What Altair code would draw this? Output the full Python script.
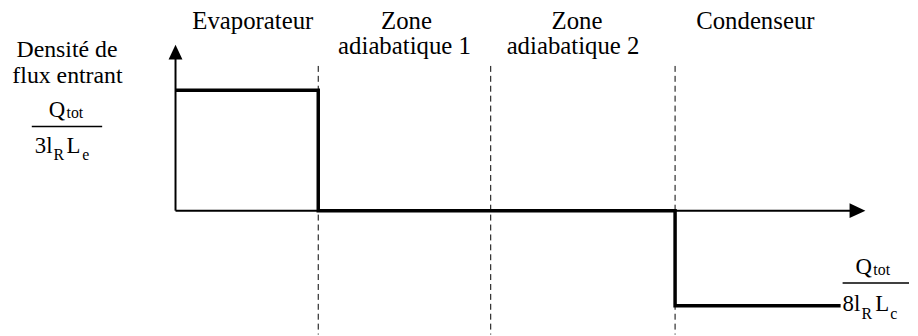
import altair as alt
import pandas as pd

# ---- schematic values (data units: 1 unit ~ 1 px, origin at axes crossing) ----
step_x = [0, 144, 144, 504, 504, 671]
step_y = [121.5, 121.5, 0, 0, -96, -96]

zone_bounds = [144, 318, 504]
dash_top, dash_bottom = 146, -125

x_axis_end = 688
y_axis_end = 160

zone_labels = ["Evaporateur", "Zone", "adiabatique 1", "Zone", "adiabatique 2", "Condenseur"]
zone_label_x = [78, 233, 231, 405, 401, 585]
zone_label_y = [183, 183, 158, 183, 158, 183]

ylab_lines = ["Densité de", "flux entrant"]
ylab_x = [-109.5, -109]
ylab_y = [155, 129]

# fraction pieces: text, x (left), y (baseline), font size
frac_text = ["Q", "tot", "3l", "R", "L", "e",
             "Q", "tot", "8l", "R", "L", "c"]
frac_x = [-128, -110, -142, -123, -110, -94,
          686, 704, 673, 692, 706, 721]
frac_y = [94, 93, 58, 51, 58, 51,
          -64, -65, -101, -109, -101, -109]
frac_size = [23, 16, 23, 16, 23, 16,
             23, 16, 23, 16, 23, 16]

frac_bar_x = [-145, 673]
frac_bar_x2 = [-74, 740]
frac_bar_y = [85, -73]

FONT = "Liberation Serif"
W, H = 910, 328
xs = alt.Scale(domain=[-169, 741], nice=False, zero=False)
ys = alt.Scale(domain=[-125, 203], nice=False, zero=False)

step_df = pd.DataFrame({"x": step_x, "y": step_y, "o": list(range(len(step_x)))})
dash_df = pd.DataFrame({"x": zone_bounds, "y": [dash_top] * 3, "y2": [dash_bottom] * 3})
axes_df = pd.DataFrame({"x": [0, 0], "y": [0, 0], "x2": [x_axis_end, 0], "y2": [0, y_axis_end]})
zl_df = pd.DataFrame({"t": zone_labels, "x": zone_label_x, "y": zone_label_y})
yl_df = pd.DataFrame({"t": ylab_lines, "x": ylab_x, "y": ylab_y})
fr_df = pd.DataFrame({"t": frac_text, "x": frac_x, "y": frac_y, "s": frac_size})
bar_df = pd.DataFrame({"x": frac_bar_x, "x2": frac_bar_x2, "y": frac_bar_y})
xarrow_df = pd.DataFrame({"x": [x_axis_end], "y": [0]})
yarrow_df = pd.DataFrame({"x": [0], "y": [y_axis_end]})

X = lambda f="x": alt.X(f"{f}:Q", scale=xs, axis=None)
Y = lambda f="y": alt.Y(f"{f}:Q", scale=ys, axis=None)

dashes = alt.Chart(dash_df).mark_rule(color="black", strokeWidth=1, strokeDash=[6, 4]).encode(
    x=X(), y=Y(), y2="y2:Q")
axes = alt.Chart(axes_df).mark_rule(color="black", strokeWidth=2).encode(
    x=X(), y=Y(), x2="x2:Q", y2="y2:Q")
step = alt.Chart(step_df).mark_line(color="black", strokeWidth=3.5, strokeJoin="miter").encode(
    x=X(), y=Y(), order="o:Q")
xarrow = alt.Chart(xarrow_df).mark_point(
    shape="M-1,-0.9375L-1,0.9375L1,0Z", size=256, filled=True, color="black", opacity=1, strokeWidth=0
).encode(x=X(), y=Y())
yarrow = alt.Chart(yarrow_df).mark_point(
    shape="M-0.875,0.9375L0.875,0.9375L0,-0.9375Z", size=256, filled=True, color="black", opacity=1, strokeWidth=0
).encode(x=X(), y=Y())
zl = alt.Chart(zl_df).mark_text(font=FONT, fontSize=25, align="center", baseline="alphabetic", color="black").encode(
    x=X(), y=Y(), text="t:N")
yl = alt.Chart(yl_df).mark_text(font=FONT, fontSize=24, align="center", baseline="alphabetic", color="black").encode(
    x=X(), y=Y(), text="t:N")
fr = alt.Chart(fr_df).mark_text(font=FONT, align="left", baseline="alphabetic", color="black").encode(
    x=X(), y=Y(), text="t:N", size=alt.Size("s:Q", scale=None, legend=None))
bars = alt.Chart(bar_df).mark_rule(color="black", strokeWidth=1.5).encode(
    x=X(), x2="x2:Q", y=Y())

chart = alt.layer(dashes, axes, step, xarrow, yarrow, zl, yl, fr, bars).properties(
    width=W, height=H, padding=0, autosize=alt.AutoSizeParams(type="none")
).configure_view(strokeWidth=0)

chart.save("out.html", embed_options={"renderer": "svg", "actions": False})
